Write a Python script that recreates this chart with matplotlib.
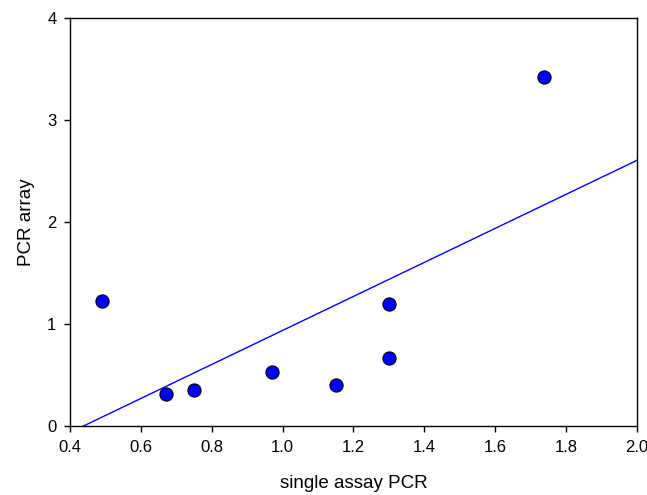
import numpy as np
import matplotlib.pyplot as plt

plt.rcParams['font.family'] = ['Liberation Sans', 'DejaVu Sans']

# single assay PCR vs PCR array measurements
single_assay = [0.49, 0.67, 0.75, 0.97, 1.15, 1.30, 1.30, 1.738]
pcr_array = [1.23, 0.31, 0.35, 0.53, 0.40, 1.20, 0.67, 3.42]

x_ticks = [0.4, 0.6, 0.8, 1.0, 1.2, 1.4, 1.6, 1.8, 2.0]
y_ticks = [0, 1, 2, 3, 4]

# linear regression of array on single assay
slope, intercept = np.polyfit(single_assay, pcr_array, 1)

fig = plt.figure(figsize=(6.47, 4.95), dpi=100)
ax = fig.add_axes([0.1082, 0.1394, 0.8763, 0.8242])

xs = np.array([0.4, 2.0])
ax.plot(xs, slope * xs + intercept, color='#0000ff', linewidth=1.0, zorder=2)
ax.scatter(single_assay, pcr_array, s=90, color='#0000ff', edgecolor='black',
           linewidth=0.8, zorder=3)

ax.set_xlim(0.4, 2.0)
ax.set_ylim(0, 4)
ax.set_xticks(x_ticks)
ax.set_xticklabels([f'{t:.1f}' for t in x_ticks])
ax.set_yticks(y_ticks)
ax.tick_params(direction='out', length=4.3, width=1, labelsize=12, pad=5.5)
for s in ax.spines.values():
    s.set_linewidth(1.0)

ax.set_xlabel('single assay PCR', fontsize=13.5, labelpad=15)
ax.set_ylabel('PCR array', fontsize=13.5, labelpad=9)

fig.savefig('out.png', dpi=100)
